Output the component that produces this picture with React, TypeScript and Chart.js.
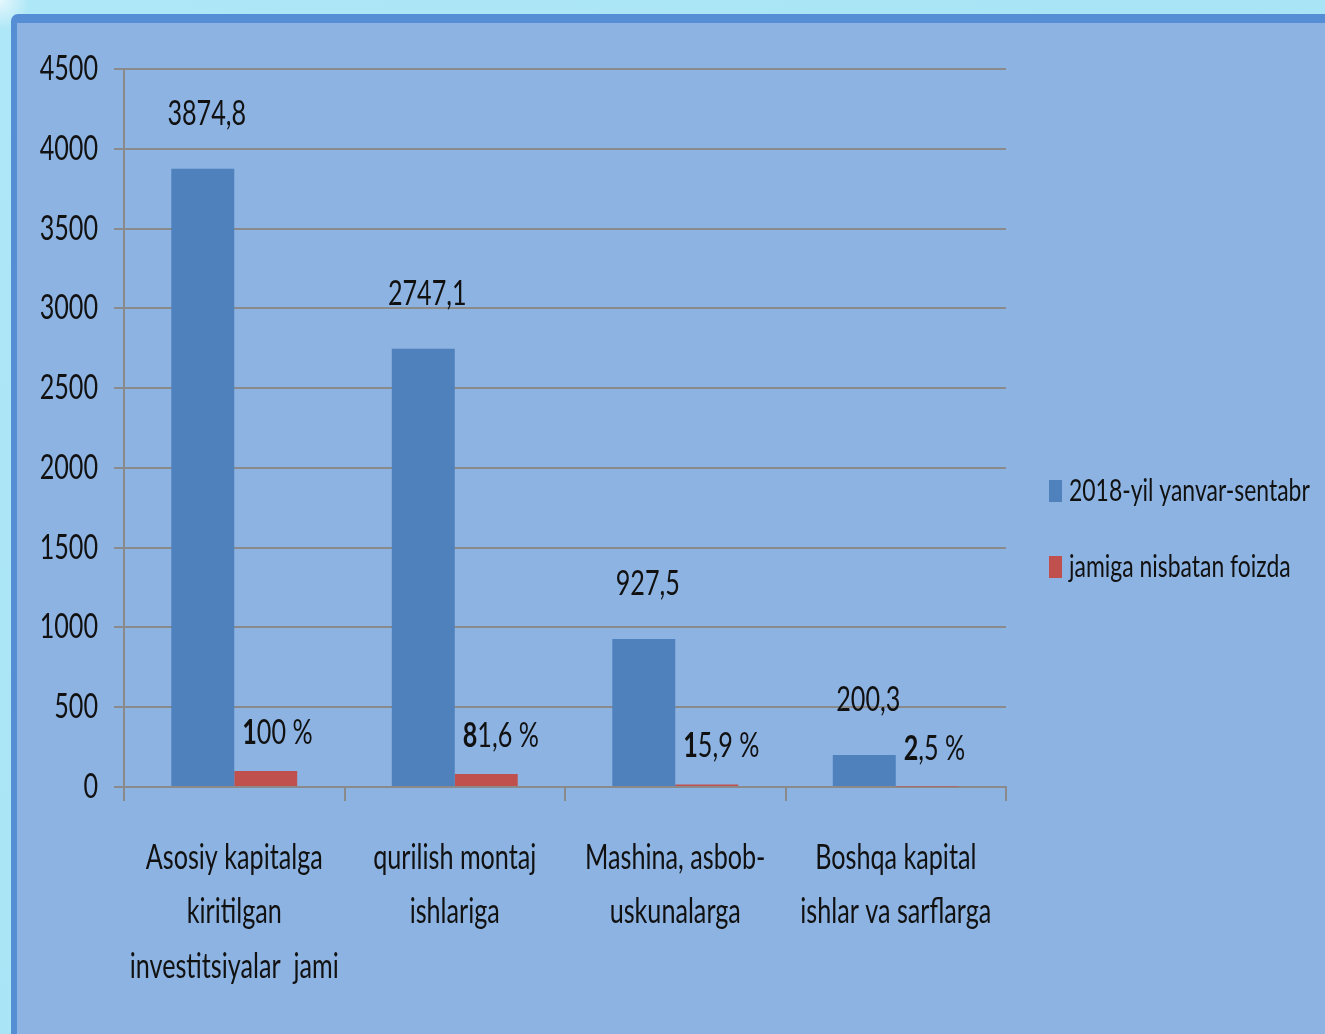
import React, { useEffect, useRef } from "react";
import { Chart, registerables } from "chart.js";

Chart.register(...registerables);

// ---- data ----
const categories: string[][] = [
  ["Asosiy kapitalga", "kiritilgan", "investitsiyalar  jami"],
  ["qurilish montaj", "ishlariga"],
  ["Mashina, asbob-", "uskunalarga"],
  ["Boshqa kapital", "ishlar va sarflarga"],
];
const seriesNames: string[] = ["2018-yil yanvar-sentabr", "jamiga nisbatan foizda"];
const investValues: number[] = [3874.8, 2747.1, 927.5, 200.3];
const shareValues: number[] = [100, 81.6, 15.9, 2.5];
const yMin = 0;
const yMax = 4500;
const yStep = 500;

const FONT = "Lato, 'Open Sans', sans-serif";
const SX = 0.74; // horizontal squeeze of the reference lettering
const FS = 34;
const BLUE = "#4f81bd";
const RED = "#c0504d";
const GRID = "#8a8a8a";
const TEXT = "#111111";

const fmt = (v: number) => (Number.isInteger(v) ? String(v) : v.toFixed(1).replace(".", ","));

function squeezed(
  ctx: CanvasRenderingContext2D,
  text: string,
  x: number,
  y: number,
  align: CanvasTextAlign,
  font: string
) {
  ctx.save();
  ctx.font = font;
  ctx.textAlign = align;
  ctx.textBaseline = "middle";
  ctx.translate(x, y);
  ctx.scale(SX, 1);
  ctx.fillText(text, 0, 0);
  const w = ctx.measureText(text).width * SX;
  ctx.restore();
  return w;
}

const textPlugin = {
  id: "squeezedText",
  afterDraw(chart: any) {
    const ctx: CanvasRenderingContext2D = chart.ctx;
    const { chartArea } = chart;
    const xs = chart.scales.x;
    const ys = chart.scales.y;
    ctx.save();
    ctx.fillStyle = TEXT;
    const normal = `${FS}px ${FONT}`;
    const bold = `bold ${FS}px ${FONT}`;

    // y tick labels
    ys.ticks.forEach((t: any) => {
      squeezed(ctx, String(t.value), chartArea.left - 26, ys.getPixelForValue(t.value), "right", normal);
    });

    // x category labels
    (chart.data.labels as string[][]).forEach((lines, i) => {
      const x = xs.getPixelForValue(i);
      lines.forEach((ln, j) => {
        squeezed(ctx, ln, x, chartArea.bottom + 71 + j * 54.5, "center", normal);
      });
    });

    // series 1 value labels
    chart.getDatasetMeta(0).data.forEach((bar: any, i: number) => {
      squeezed(ctx, fmt(chart.data.datasets[0].data[i]), bar.x + 4, bar.y - 55, "center", normal);
    });

    // series 2 value labels (first digit bold)
    chart.getDatasetMeta(1).data.forEach((bar: any, i: number) => {
      const s = fmt(chart.data.datasets[1].data[i]);
      let x = bar.x - bar.width / 2 + 8;
      const y = bar.y - 38;
      x += squeezed(ctx, s.charAt(0), x, y, "left", bold);
      squeezed(ctx, s.slice(1) + " %", x, y, "left", normal);
    });

    // legend
    const lx = chartArea.right + 43;
    const lys = [chartArea.top + 422, chartArea.top + 498];
    chart.data.datasets.forEach((ds: any, i: number) => {
      ctx.fillStyle = ds.backgroundColor;
      ctx.fillRect(lx, lys[i] - 11, 13, 22);
      ctx.fillStyle = TEXT;
      squeezed(ctx, ds.label, lx + 20, lys[i], "left", `${FS - 3}px ${FONT}`);
    });
    ctx.restore();
  },
};

export default function App() {
  const ref = useRef<HTMLCanvasElement | null>(null);

  useEffect(() => {
    if (!ref.current) return;
    const chart = new Chart(ref.current, {
      type: "bar",
      data: {
        labels: categories,
        datasets: [
          { label: seriesNames[0], data: investValues, backgroundColor: BLUE },
          { label: seriesNames[1], data: shareValues, backgroundColor: RED },
        ],
      },
      options: {
        animation: false,
        responsive: false,
        devicePixelRatio: 1,
        layout: { padding: { left: 0, top: 69, right: 319, bottom: 0 } },
        datasets: { bar: { categoryPercentage: 0.571, barPercentage: 1 } },
        plugins: { legend: { display: false }, tooltip: { enabled: false } },
        scales: {
          x: {
            grid: { drawOnChartArea: false, color: GRID, lineWidth: 2, tickLength: 14, offset: true },
            border: { color: GRID, width: 2 },
            ticks: { display: false, autoSkip: false },
            afterFit: (s: any) => {
              s.height = 247;
            },
          },
          y: {
            min: yMin,
            max: yMax,
            grid: { color: GRID, lineWidth: 2, tickLength: 10 },
            border: { color: GRID, width: 2 },
            ticks: { display: false, stepSize: yStep },
            afterFit: (s: any) => {
              s.width = 124;
            },
          },
        },
      },
      plugins: [textPlugin],
    });
    return () => chart.destroy();
  }, []);

  return (
    <div
      style={{
        position: "fixed",
        left: 0,
        top: 0,
        width: 1325,
        height: 1034,
        overflow: "hidden",
        background: "radial-gradient(circle at 0 0, #e6f8fd 0px, #aee7f7 30px, #a6e3f5 100%)",
      }}
    >
      <div
        style={{
          position: "absolute",
          left: 11,
          top: 14,
          width: 1400,
          height: 1100,
          background: "#8db3e2",
          borderTop: "9px solid #558ed5",
          borderLeft: "6px solid #558ed5",
          borderTopLeftRadius: 7,
        }}
      />
      <canvas
        ref={ref}
        width={1325}
        height={1034}
        style={{ position: "absolute", left: 0, top: 0, width: 1325, height: 1034 }}
      />
    </div>
  );
}
